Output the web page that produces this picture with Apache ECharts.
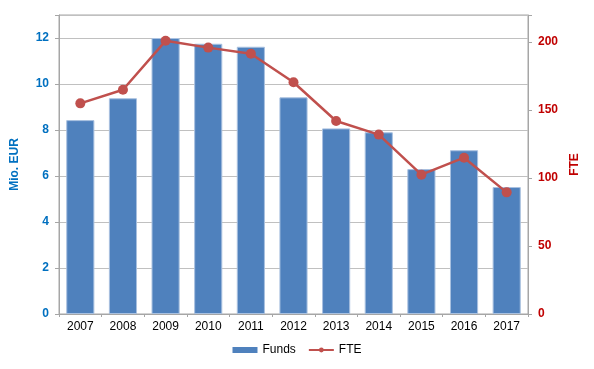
<!DOCTYPE html>
<html><head><meta charset="utf-8">
<script src="https://cdn.jsdelivr.net/npm/echarts@6/dist/echarts.min.js"></script>
<style>html,body{margin:0;padding:0;background:#fff}#c{width:594px;height:369px}</style>
</head><body><div id="c"></div>
<script>
const years = ['2007','2008','2009','2010','2011','2012','2013','2014','2015','2016','2017'];
const funds = [8.43, 9.38, 12.0, 11.75, 11.62, 9.42, 8.07, 7.9, 6.3, 7.12, 5.52];
const fte = [155, 165, 201, 196, 191.5, 170.5, 142, 132, 102.5, 115, 89.5];
const chart = echarts.init(document.getElementById('c'));
chart.setOption({
  animation: false,
  grid: {left: 59, right: 66, top: 15, bottom: 55, show: true, borderColor: '#a6a6a6', borderWidth: 1},
  legend: {
    bottom: 8, left: 'center', itemGap: 12, itemWidth: 25, itemHeight: 6,
    textStyle: {fontFamily: 'Liberation Sans, Arial', fontSize: 12, color: '#000'},
    data: [{name: 'Funds', icon: 'rect', itemStyle: {borderWidth: 0}}, {name: 'FTE'}]
  },
  xAxis: {
    type: 'category', data: years,
    axisLine: {lineStyle: {color: '#a6a6a6'}},
    axisTick: {show: true, length: 3, lineStyle: {color: '#a6a6a6'}},
    axisLabel: {color: '#000', fontFamily: 'Liberation Sans, Arial', fontSize: 12, margin: 7}
  },
  yAxis: [{
    type: 'value', min: 0, max: 13, interval: 2,
    name: 'Mio. EUR', nameLocation: 'middle', nameGap: 38, nameRotate: 90,
    nameTextStyle: {color: '#0070C0', fontWeight: 'bold', fontFamily: 'Liberation Sans, Arial', fontSize: 12},
    axisLine: {show: true, lineStyle: {color: '#a6a6a6'}},
    axisTick: {show: true, length: 4, lineStyle: {color: '#a6a6a6'}},
    axisLabel: {color: '#0070C0', fontWeight: 'bold', fontFamily: 'Liberation Sans, Arial', fontSize: 12, margin: 10,
      formatter: v => (v % 2 === 0 ? String(v) : '')},
    splitLine: {lineStyle: {color: '#c0c0c0'}}
  }, {
    type: 'value', min: 0, max: 220, interval: 50, position: 'right',
    name: 'FTE', nameLocation: 'middle', nameGap: 38, nameRotate: 90,
    nameTextStyle: {color: '#C00000', fontWeight: 'bold', fontFamily: 'Liberation Sans, Arial', fontSize: 12},
    axisLine: {show: true, lineStyle: {color: '#a6a6a6'}},
    axisTick: {show: true, length: 4, lineStyle: {color: '#a6a6a6'}},
    axisLabel: {color: '#C00000', fontWeight: 'bold', fontFamily: 'Liberation Sans, Arial', fontSize: 12, margin: 10,
      formatter: v => (v % 50 === 0 ? String(v) : '')},
    splitLine: {show: false}
  }],
  series: [{
    name: 'Funds', type: 'bar', data: funds, yAxisIndex: 0, barWidth: '66%',
    itemStyle: {color: '#4F81BD', borderColor: '#a9c1e0', borderWidth: 1}
  }, {
    name: 'FTE', type: 'line', data: fte, yAxisIndex: 1,
    symbol: 'circle', symbolSize: 10,
    lineStyle: {color: '#C0504D', width: 2.5},
    itemStyle: {color: '#C0504D'}
  }]
});
</script></body></html>
